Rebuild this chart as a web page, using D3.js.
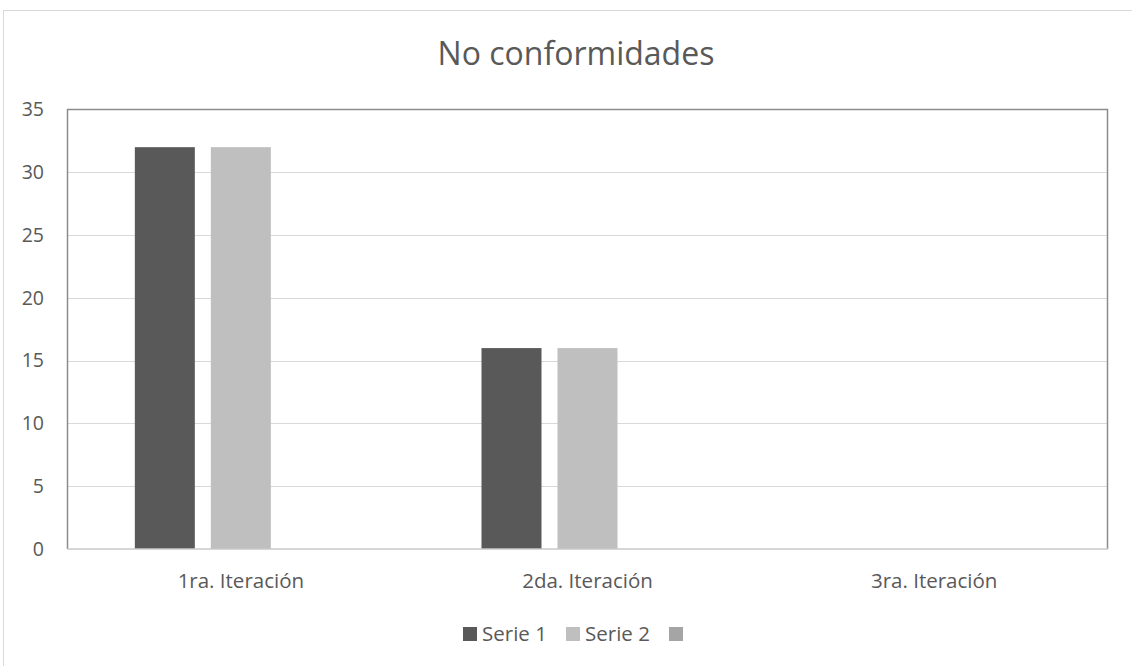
<!DOCTYPE html>
<html>
<head>
<meta charset="utf-8">
<script src="https://cdn.jsdelivr.net/npm/d3@7"></script>
<style>
  html, body { margin: 0; padding: 0; background: #fff; }
  svg { display: block; }
  text { font-family: "Open Sans", "Noto Sans", sans-serif; fill: #595959; }
</style>
</head>
<body>
<svg id="chart" width="1132" height="666"></svg>
<script>
const title = "No conformidades";
const categories = ["1ra. Iteración", "2da. Iteración", "3ra. Iteración"];
const seriesNames = ["Serie 1", "Serie 2", ""];
const serie1 = [32, 16, 0];
const serie2 = [32, 16, 0];
const serie3 = [0, 0, 0];
const yTicks = [0, 5, 10, 15, 20, 25, 30, 35];
const colors = ["#595959", "#bfbfbf", "#a5a5a5"];

const seriesValues = [serie1, serie2, serie3];
const svg = d3.select("#chart");
const W = 1132, H = 666;
const m = { left: 67.5, right: 1107.5, top: 109.5, bottom: 549 };

// outer chart border
svg.append("rect").attr("x", 3.5).attr("y", 10.5).attr("width", W + 20).attr("height", H + 20)
  .attr("fill", "#fff").attr("stroke", "#d9d9d9").attr("stroke-width", 1);

const x = d3.scaleBand().domain(categories).range([m.left, m.right]).paddingInner(0).paddingOuter(0);
const groupW = 3 * 60 + 2 * 16;
const xs = d3.scaleBand().domain(d3.range(seriesValues.length))
  .range([(x.bandwidth() - groupW) / 2, (x.bandwidth() + groupW) / 2])
  .paddingInner(16 / 76).paddingOuter(0);

const y = d3.scaleLinear().domain([0, 35]).range([m.bottom, m.top]);

// gridlines
svg.append("g").selectAll("line").data(yTicks.filter(t => t > 0 && t < 35)).join("line")
  .attr("x1", m.left).attr("x2", m.right)
  .attr("y1", d => Math.round(y(d)) + 0.5).attr("y2", d => Math.round(y(d)) + 0.5)
  .attr("stroke", "#d9d9d9").attr("stroke-width", 1);

// bars
const rows = categories.map((c, i) => ({ cat: c, vals: seriesValues.map((s, j) => ({ j, v: s[i] })) }));
const g = svg.append("g").selectAll("g").data(rows).join("g")
  .attr("transform", d => `translate(${x(d.cat)},0)`);
g.selectAll("rect").data(d => d.vals.filter(v => v.v > 0)).join("rect")
  .attr("x", d => xs(d.j)).attr("width", xs.bandwidth())
  .attr("y", d => y(d.v)).attr("height", d => y(0) - y(d.v))
  .attr("fill", d => colors[d.j]);

// plot frame: left, top, right in gray; bottom axis lighter
svg.append("path")
  .attr("d", `M${m.left},${m.bottom}V${m.top}H${m.right}V${m.bottom}`)
  .attr("fill", "none").attr("stroke", "#8c8c8c").attr("stroke-width", 1.5);
svg.append("line").attr("x1", m.left).attr("x2", m.right + 0.75)
  .attr("y1", m.bottom).attr("y2", m.bottom)
  .attr("stroke", "#c8c8c8").attr("stroke-width", 1.5);

// y axis labels
const yAxis = d3.axisLeft(y).tickValues(yTicks).tickSize(0).tickPadding(0);
const ya = svg.append("g").attr("transform", `translate(44,0)`).call(yAxis);
ya.select(".domain").remove();
ya.selectAll("text").attr("font-size", 19.5).attr("fill", "#595959")
  .attr("font-family", '"Open Sans", sans-serif').attr("text-anchor", "end");

// x axis labels
const xAxis = d3.axisBottom(x).tickSize(0).tickPadding(0);
const xa = svg.append("g").attr("transform", `translate(0,${m.bottom + 24.5})`).call(xAxis);
xa.select(".domain").remove();
xa.selectAll("text").attr("font-size", 20.5).attr("fill", "#595959")
  .attr("font-family", '"Open Sans", sans-serif');

// title
svg.append("text").attr("x", 576).attr("y", 65).attr("text-anchor", "middle")
  .attr("font-size", 32).text(title);

// legend
const legendX = [463, 566, 669];
const lg = svg.append("g").selectAll("g").data(seriesNames).join("g")
  .attr("transform", (d, i) => `translate(${legendX[i]},627)`);
lg.append("rect").attr("width", 14).attr("height", 14).attr("fill", (d, i) => colors[i]);
lg.append("text").attr("x", 19).attr("y", 14).attr("font-size", 20.5).text(d => d);
</script>
</body>
</html>
